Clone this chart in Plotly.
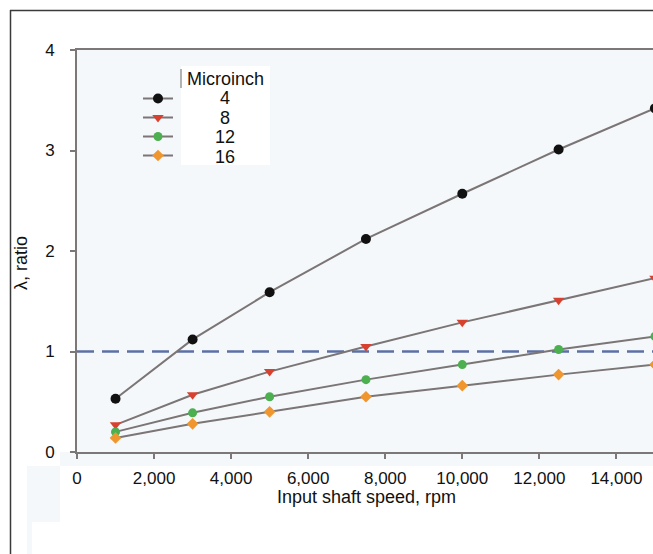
import plotly.graph_objects as go

# Input shaft speed (rpm) at which lambda was evaluated
speed_rpm = [1000, 3000, 5000, 7500, 10000, 12500, 15000]

# Surface roughness groups (microinch)
roughness_labels = ["4", "8", "12", "16"]

# Lambda ratio for each roughness
lambda_4 = [0.53, 1.12, 1.59, 2.12, 2.57, 3.01, 3.42]
lambda_8 = [0.27, 0.57, 0.80, 1.05, 1.29, 1.51, 1.73]
lambda_12 = [0.20, 0.39, 0.55, 0.72, 0.87, 1.02, 1.15]
lambda_16 = [0.14, 0.28, 0.40, 0.55, 0.66, 0.77, 0.87]

# Reference level lambda = 1
threshold = 1.0

x_ticks = [0, 2000, 4000, 6000, 8000, 10000, 12000, 14000]
y_ticks = [0, 1, 2, 3, 4]

series = [lambda_4, lambda_8, lambda_12, lambda_16]
marker_colors = ["#111111", "#d8412f", "#4caf50", "#f0962e"]
marker_symbols = ["circle", "triangle-down", "circle", "diamond"]
marker_sizes = [10, 10, 9, 9]
line_color = "#7b7575"
bg = "#f5f8fb"

W, H = 653, 554
L, R, T, B = 77, 0, 50, 102
PW, PH = W - L - R, H - T - B


def px(x):
    return (x - L) / PW


def py(y):
    return (T + PH - y) / PH


fig = go.Figure()

for vals, col, sym, size in zip(series, marker_colors, marker_symbols, marker_sizes):
    fig.add_trace(go.Scatter(
        x=speed_rpm, y=vals, mode="lines+markers", name="",
        line=dict(color=line_color, width=2),
        marker=dict(color=col, symbol=sym, size=size, line=dict(width=0)),
        showlegend=True,
    ))

fig.add_hline(y=threshold, line=dict(color="#5c70a6", width=2.5, dash="17px,8px"),
              layer="below")

shapes = [
    # light band under the axis and along the lower left
    dict(type="rect", xref="paper", yref="paper", x0=px(60), x1=px(653),
         y0=py(466), y1=py(452), fillcolor=bg, line=dict(width=0), layer="below"),
    dict(type="rect", xref="paper", yref="paper", x0=px(27), x1=px(60),
         y0=py(522), y1=py(466), fillcolor=bg, line=dict(width=0), layer="below"),
    dict(type="rect", xref="paper", yref="paper", x0=px(27), x1=px(32),
         y0=py(554), y1=py(522), fillcolor=bg, line=dict(width=0), layer="below"),
    # white box behind the legend labels
    dict(type="rect", xref="paper", yref="paper", x0=px(181), x1=px(270),
         y0=py(165), y1=py(66), fillcolor="#ffffff", line=dict(width=0), layer="below"),
    dict(type="line", xref="paper", yref="paper", x0=px(181), x1=px(181),
         y0=py(88), y1=py(69), line=dict(color="#9a9a9a", width=1.5)),
    # outer frame
    dict(type="line", xref="paper", yref="paper", x0=px(10.5), x1=px(10.5),
         y0=py(554), y1=py(10), line=dict(color="#3a3a3a", width=1.5)),
    dict(type="line", xref="paper", yref="paper", x0=px(10), x1=px(653),
         y0=py(10.5), y1=py(10.5), line=dict(color="#3a3a3a", width=1.5)),
]
for s in shapes:
    fig.add_shape(**s)

font_family = "Liberation Sans, Arial, sans-serif"

annotations = [
    dict(text="λ, ratio", x=px(21), y=py(263), textangle=-90,
         xanchor="center", yanchor="middle", font=dict(size=18)),
    dict(text="Input shaft speed, rpm", x=px(366), y=py(497),
         xanchor="center", yanchor="middle", font=dict(size=18)),
    dict(text="Microinch", x=px(225), y=py(79),
         xanchor="center", yanchor="middle", font=dict(size=18)),
]
label_rows = [98, 118, 137, 157]
for lab, row in zip(roughness_labels, label_rows):
    annotations.append(dict(text=lab, x=px(225), y=py(row),
                            xanchor="center", yanchor="middle", font=dict(size=18)))
for a in annotations:
    fig.add_annotation(xref="paper", yref="paper", showarrow=False, **a)

fig.update_layout(
    width=W, height=H,
    margin=dict(l=L, r=R, t=T, b=B, autoexpand=False),
    paper_bgcolor="#ffffff",
    plot_bgcolor=bg,
    font=dict(family=font_family, size=17, color="#111111"),
    showlegend=True,
    legend=dict(x=px(138), y=py(84), xanchor="left", yanchor="top",
                bgcolor="rgba(0,0,0,0)", borderwidth=0,
                font=dict(size=10), itemwidth=30, tracegroupgap=0),
    xaxis=dict(range=[0, 14950], tickvals=x_ticks, tickformat=",d",
               showgrid=False, zeroline=False,
               showline=True, linecolor="#7d7878", linewidth=2, mirror=True,
               ticks="outside", ticklen=5, tickwidth=1.5, tickcolor="#7d7878",
               ticklabelstandoff=5, tickfont=dict(size=17)),
    yaxis=dict(range=[0, 4], tickvals=y_ticks,
               showgrid=False, zeroline=False,
               showline=True, linecolor="#7d7878", linewidth=2, mirror=True,
               ticks="outside", ticklen=5, tickwidth=1.5, tickcolor="#7d7878",
               ticklabelstandoff=12, tickfont=dict(size=17)),
)

fig.write_html("out.html")
